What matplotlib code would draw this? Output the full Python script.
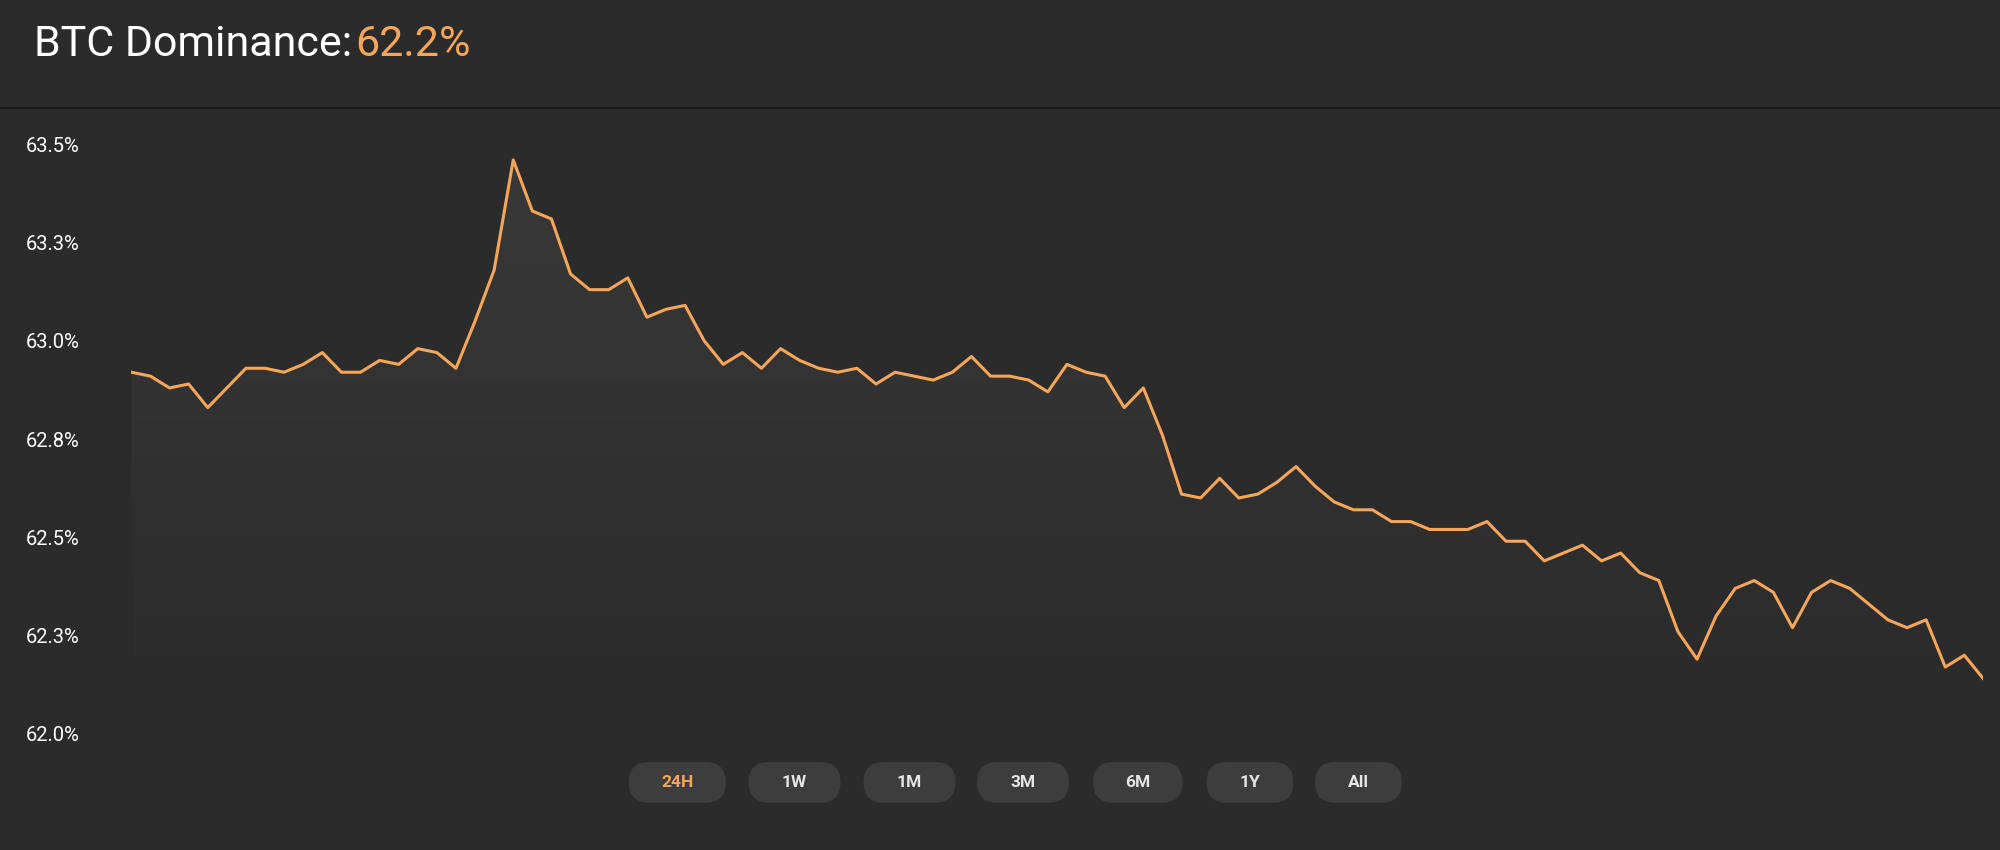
import matplotlib
matplotlib.use("Agg")
import matplotlib.pyplot as plt
import numpy as np
from matplotlib.patches import FancyBboxPatch
from matplotlib.lines import Line2D
from matplotlib.colors import LinearSegmentedColormap

values = [62.92,62.91,62.88,62.89,62.83,62.88,62.93,62.93,62.92,62.94,62.97,62.92,62.92,62.95,62.94,
          62.98,62.97,62.93,63.05,63.18,63.46,63.33,63.31,63.17,63.13,63.13,63.16,63.06,63.08,63.09,
          63.00,62.94,62.97,62.93,62.98,62.95,62.93,62.92,62.93,62.89,62.92,62.91,62.90,62.92,62.96,
          62.91,62.91,62.90,62.87,62.94,62.92,62.91,62.83,62.88,62.76,62.61,62.60,62.65,62.60,62.61,
          62.64,62.68,62.63,62.59,62.57,62.57,62.54,62.54,62.52,62.52,62.52,62.54,62.49,62.49,62.44,
          62.46,62.48,62.44,62.46,62.41,62.39,62.26,62.19,62.30,62.37,62.39,62.36,62.27,62.36,62.39,
          62.37,62.33,62.29,62.27,62.29,62.17,62.20,62.14]
yticks = [62.0, 62.25, 62.5, 62.75, 63.0, 63.25, 63.5]
ytick_labels = ["62.0%", "62.3%", "62.5%", "62.8%", "63.0%", "63.3%", "63.5%"]
buttons = ["24H", "1W", "1M", "3M", "6M", "1Y", "All"]
title_label = "BTC Dominance: "
title_value = "62.2%"

BG = "#2b2b2b"
ORANGE = "#f5a65b"
W, H = 1568, 666

fig = plt.figure(figsize=(20, 8.5), dpi=100, facecolor=BG)
fig.add_artist(Line2D([0, 1], [1 - 85/H, 1 - 85/H], color="#1a1a1a", lw=1.5))
t = fig.text(27/W, 1 - 35/H, title_label, color="white", fontsize=31, va="center", family="Roboto")
fig.canvas.draw()
bb = t.get_window_extent()
fig.text(bb.x1/fig.bbox.width - 0.004, 1 - 35/H, title_value, color=ORANGE, fontsize=31, va="center", family="Roboto")

left, right = 103/W, 1555/W
bottom, top = 1 - 575/H, 1 - 113/H
ax = fig.add_axes([left, bottom, right - left, top - bottom])
ax.set_facecolor(BG)
x = np.arange(len(values))
poly = ax.fill_between(x, values, 62.1, color="none", lw=0)
cmap = LinearSegmentedColormap.from_list("g", [BG, "#393939"])
grad = np.linspace(0, 1, 256).reshape(-1, 1)
im = ax.imshow(grad, extent=[0, len(values) - 1, 62.1, 63.5], origin="lower", aspect="auto", cmap=cmap, zorder=1)
im.set_clip_path(poly.get_paths()[0], transform=ax.transData)
ax.plot(x, values, color=ORANGE, lw=2.2, zorder=3)
ax.set_xlim(0, len(values) - 1)
ax.set_ylim(62.0, 63.5)
ax.set_yticks(yticks)
ax.set_yticklabels(ytick_labels, color="white", fontsize=14.5, family="Roboto", ha="left")
ax.tick_params(axis="y", length=0, pad=(103-20)/W*2000*0.72)
ax.set_xticks([])
for s in ax.spines.values():
    s.set_visible(False)

centers = [531, 623, 713, 802, 892, 980, 1065]
widths = [76, 72, 72, 72, 70, 68, 68]
bh = 32/H
for i, (lab, cx, w) in enumerate(zip(buttons, centers, widths)):
    bw = w/W
    cxf, cyf = cx/W, 1 - 613/H
    p = FancyBboxPatch((cxf - bw/2, cyf - bh/2), bw, bh,
                       boxstyle="round,pad=0,rounding_size=%f" % (16/W),
                       transform=fig.transFigure, facecolor="#3d3d3d", edgecolor="none",
                       mutation_aspect=W/H)
    fig.add_artist(p)
    fig.text(cxf, cyf, lab, color=ORANGE if i == 0 else "#e6e6e6", fontsize=12.5,
             fontweight="bold", ha="center", va="center", family="Roboto")

fig.savefig("out.png", dpi=100, facecolor=BG)
